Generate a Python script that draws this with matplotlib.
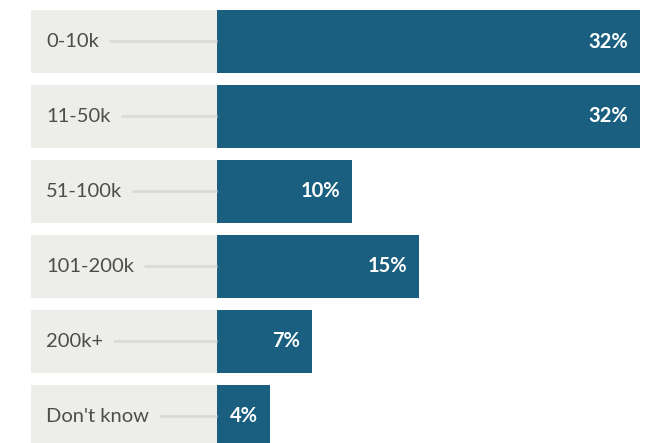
import matplotlib.pyplot as plt

# ingresos por tramo
categories = ['0-10k', '11-50k', '51-100k', '101-200k', '200k+', "Don't know"]
values = [32.0, 32.0, 10.2, 15.3, 7.2, 4.0]

BAR_COLOR = '#1a5f80'
PANEL_COLOR = '#edede9'
LINE_COLOR = '#dcd9d3'

W, H = 659, 443
px_per_unit = 423 / 32.0  # 32% ocupa 423 px

fig = plt.figure(figsize=(W / 100, H / 100), dpi=100)
ax = fig.add_axes([0, 0, 1, 1])
ax.set_xlim(-217 / px_per_unit, (W - 217) / px_per_unit)
ax.set_ylim((H - 41.5) / 75, -41.5 / 75)
ax.axis('off')

panel_left = -(217 - 31) / px_per_unit
rows = range(len(categories))
ax.barh(rows, [-panel_left] * len(categories), left=panel_left, height=0.84,
        color=PANEL_COLOR, linewidth=0)
ax.barh(rows, values, height=0.84, color=BAR_COLOR, linewidth=0)

renderer = fig.canvas.get_renderer()
for i, (cat, val) in enumerate(zip(categories, values)):
    t = ax.text(-(217 - 46) / px_per_unit, i, cat, ha='left', va='center',
                fontsize=14.5, color='#4d4d4d', family='Lato', fontweight='normal')
    bb = t.get_window_extent(renderer)
    x0 = ax.transData.inverted().transform((bb.x1 + 10, 0))[0]
    ax.plot([x0, 0], [i - 0.005, i - 0.005], color=LINE_COLOR, lw=2, solid_capstyle='butt')
    ax.text(val - 12 / px_per_unit, i, f'{round(val)}%', ha='right', va='center',
            fontsize=14.5, color='white', family='Lato', fontweight='bold')

fig.savefig('out.png', dpi=100)
